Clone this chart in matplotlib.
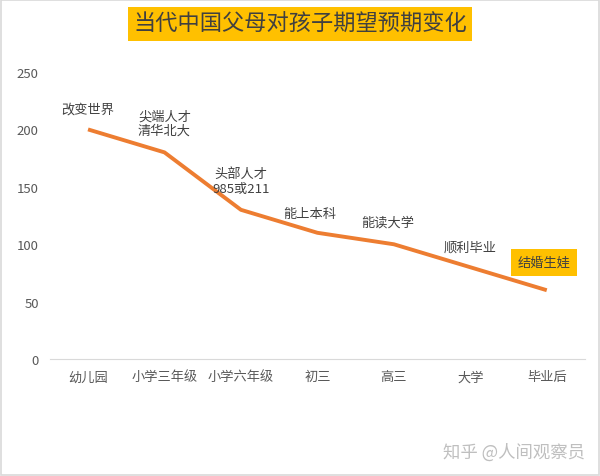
import matplotlib
matplotlib.use("Agg")
import matplotlib.pyplot as plt
from matplotlib.patches import Rectangle

plt.rcParams['font.family'] = ['Noto Sans CJK SC', 'DejaVu Sans']

categories = ["幼儿园", "小学三年级", "小学六年级", "初三", "高三", "大学", "毕业后"]
values = [200, 180, 130, 110, 100, 80, 60]
labels = ["改变世界", "尖端人才\n清华北大", "头部人才\n985或211", "能上本科", "能读大学", "顺利毕业", "结婚生娃"]
yticks = [0, 50, 100, 150, 200, 250]
title = "当代中国父母对孩子期望预期变化"
watermark = "知乎 @人间观察员"

fig = plt.figure(figsize=(6, 4.77), dpi=100)
ax = fig.add_axes([0.083, 0.245, 0.892, 0.602])

x = list(range(len(categories)))
ax.plot(x, values, color="#ED7D31", linewidth=2.8, solid_capstyle="butt")
ax.set_xlim(-0.5, len(categories) - 0.5)
ax.set_ylim(0, 250)
ax.set_yticks(yticks)
ax.set_xticks(x)
ax.set_xticklabels(categories)
for s in ["top", "right", "left"]:
    ax.spines[s].set_visible(False)
ax.spines["bottom"].set_color("#D9D9D9")
ax.tick_params(axis="both", length=0, colors="#595959", labelsize=9.5)
ax.tick_params(axis="x", pad=8)
ax.tick_params(axis="y", pad=8)

# data labels
offsets = [(0, 10), (0, 11), (0, 11), (-0.1, 9), (-0.08, 11), (0, 10), (0, 0)]
for i, (v, lab) in enumerate(zip(values, labels)):
    if i == len(values) - 1:
        ax.annotate(lab, (i, v), xytext=(-2, 20), textcoords="offset points",
                    ha="center", va="center", fontsize=9.5, color="#404040",
                    bbox=dict(boxstyle="square,pad=0.5", fc="#FFC000", ec="none"))
    else:
        dx, dy = offsets[i]
        ax.annotate(lab, (i + dx, v), xytext=(0, dy), textcoords="offset points",
                    ha="center", va="bottom", fontsize=9.5, color="#404040",
                    linespacing=1.15)

# title
fig.text(0.5, 0.948, title, ha="center", va="center", fontsize=16, color="#404040",
         bbox=dict(boxstyle="square,pad=0.25", fc="#FFC000", ec="none"))

# watermark
fig.text(0.975, 0.052, watermark, ha="right", va="center", fontsize=12.5, color="#BFBFBF")

# figure border
fig.patches.append(Rectangle((0.001, 0.002), 0.997, 0.995, transform=fig.transFigure,
                             fill=False, ec="#D9D9D9", lw=1.2))

fig.savefig("out.png", dpi=100)
